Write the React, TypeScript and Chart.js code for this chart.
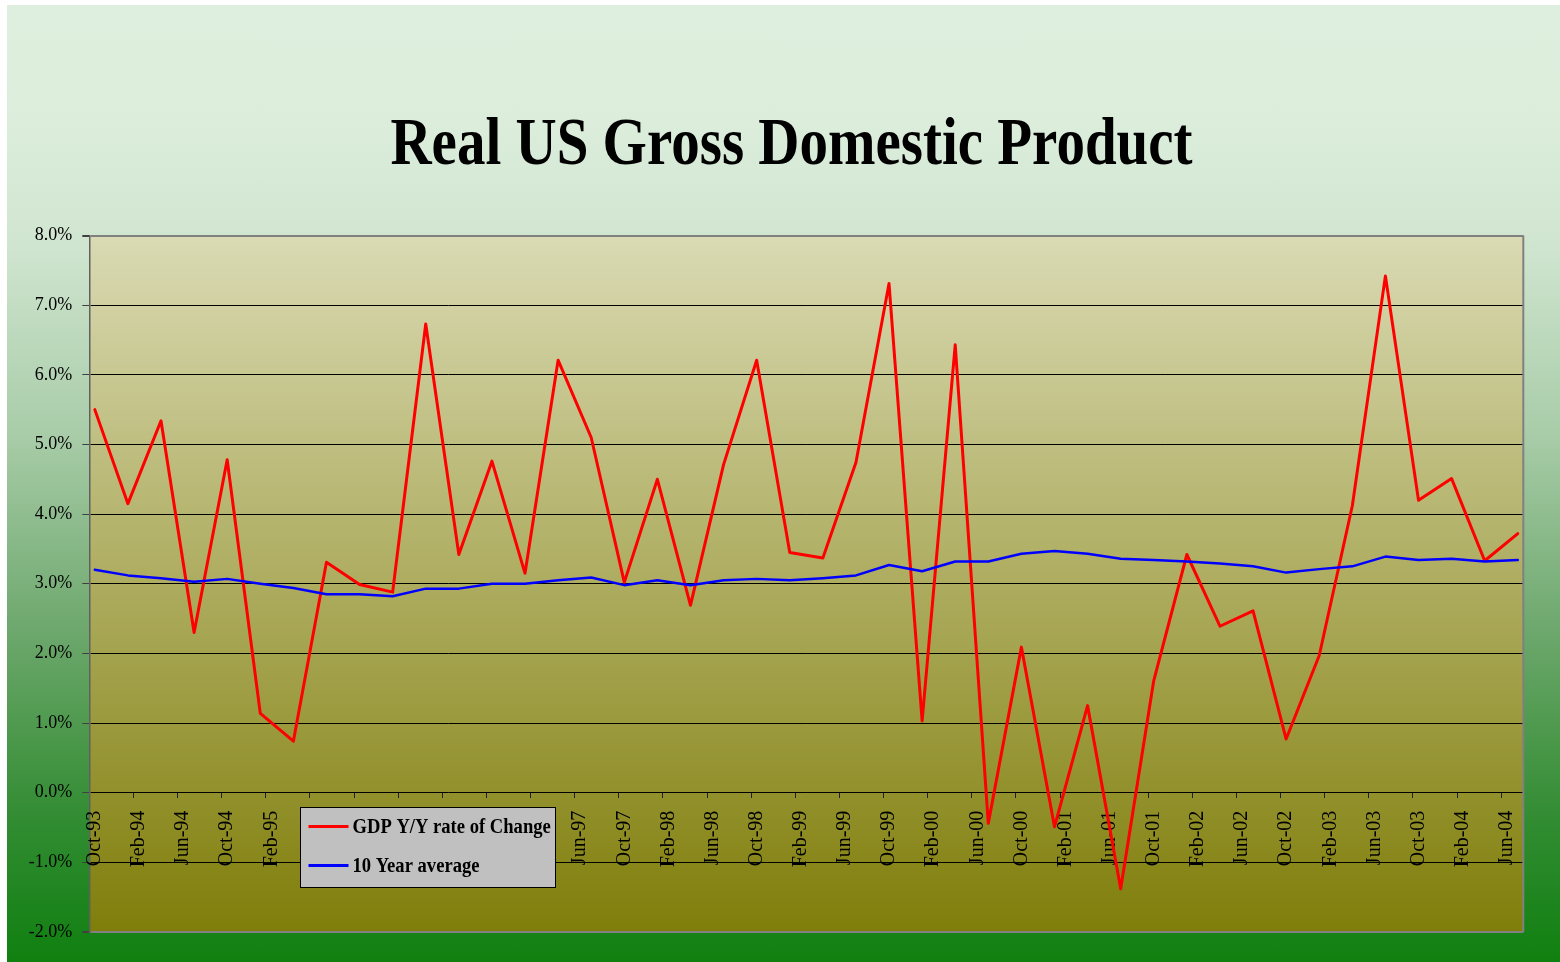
import React, { useEffect, useRef } from "react";
import { Chart, registerables } from "chart.js";

Chart.register(...registerables);

const chartTitle = "Real US Gross Domestic Product";

const quarterLabels = [
  "Oct-93",
  "Jan-94", "Apr-94", "Jul-94", "Oct-94",
  "Jan-95", "Apr-95", "Jul-95", "Oct-95",
  "Jan-96", "Apr-96", "Jul-96", "Oct-96",
  "Jan-97", "Apr-97", "Jul-97", "Oct-97",
  "Jan-98", "Apr-98", "Jul-98", "Oct-98",
  "Jan-99", "Apr-99", "Jul-99", "Oct-99",
  "Jan-00", "Apr-00", "Jul-00", "Oct-00",
  "Jan-01", "Apr-01", "Jul-01", "Oct-01",
  "Jan-02", "Apr-02", "Jul-02", "Oct-02",
  "Jan-03", "Apr-03", "Jul-03", "Oct-03",
  "Jan-04", "Apr-04", "Jul-04",
];

const gdpValues = [
  5.5, 4.15, 5.34, 2.3, 4.78, 1.14, 0.74, 3.31, 2.99, 2.88,
  6.73, 3.42, 4.76, 3.15, 6.21, 5.1, 3.02, 4.5, 2.69, 4.71,
  6.21, 3.45, 3.37, 4.74, 7.31, 1.03, 6.43, -0.44, 2.09, -0.49,
  1.25, -1.38, 1.61, 3.42, 2.39, 2.61, 0.77, 1.97, 4.12, 7.42,
  4.2, 4.51, 3.33, 3.72,
];

const avgValues = [
  3.2, 3.12, 3.08, 3.03, 3.07, 3.0, 2.94, 2.85, 2.85, 2.82,
  2.93, 2.93, 3.0, 3.0, 3.05, 3.09, 2.98, 3.05, 2.98, 3.05,
  3.07, 3.05, 3.08, 3.12, 3.27, 3.18, 3.32, 3.32, 3.43, 3.47,
  3.43, 3.36, 3.34, 3.32, 3.29, 3.25, 3.16, 3.21, 3.25, 3.39,
  3.34, 3.36, 3.32, 3.34,
];

const tickLabels = [
  "Oct-93", "Feb-94", "Jun-94", "Oct-94", "Feb-95", "Jun-95", "Oct-95",
  "Feb-96", "Jun-96", "Oct-96", "Feb-97", "Jun-97", "Oct-97", "Feb-98",
  "Jun-98", "Oct-98", "Feb-99", "Jun-99", "Oct-99", "Feb-00", "Jun-00",
  "Oct-00", "Feb-01", "Jun-01", "Oct-01", "Feb-02", "Jun-02", "Oct-02",
  "Feb-03", "Jun-03", "Oct-03", "Feb-04", "Jun-04",
];

const seriesNames = ["GDP Y/Y rate of Change", "10 Year average"];
const seriesColors = ["#ff0000", "#0000ff"];

const W = 1553;
const H = 957;
const SERIF = '"Liberation Serif", "Times New Roman", serif';

export default function App() {
  const ref = useRef<HTMLCanvasElement>(null);

  useEffect(() => {
    if (!ref.current) return;
    const monthsPerQuarter = 3;
    const monthsPerTick = 4;
    const toPoints = (vals: number[]) =>
      vals.map((v, i) => ({ x: i * monthsPerQuarter, y: v }));

    const plotBg = {
      id: "plotBg",
      beforeDraw(chart: any) {
        const { ctx, chartArea: a } = chart;
        const g = ctx.createLinearGradient(0, a.top, 0, a.bottom);
        g.addColorStop(0, "rgb(218,218,180)");
        g.addColorStop(1, "rgb(128,126,10)");
        ctx.save();
        ctx.fillStyle = g;
        ctx.fillRect(a.left, a.top, a.right - a.left, a.bottom - a.top);
        ctx.restore();
      },
    };

    const titleAndFrame = {
      id: "titleAndFrame",
      afterDraw(chart: any) {
        const { ctx, chartArea: a } = chart;
        ctx.save();
        ctx.strokeStyle = "#808080";
        ctx.lineWidth = 2;
        ctx.beginPath();
        ctx.moveTo(a.right, a.top);
        ctx.lineTo(a.right, a.bottom);
        ctx.stroke();
        ctx.translate(784.5, 159);
        ctx.scale(1, 1.17);
        ctx.fillStyle = "#000";
        ctx.font = `bold 57px ${SERIF}`;
        ctx.textAlign = "center";
        ctx.textBaseline = "alphabetic";
        ctx.fillText(chartTitle, 0, 0);
        ctx.restore();

        const ds = chart.data.datasets;
        const bx = 293.5, by = 802.5, bw = 255, bh = 80;
        ctx.save();
        ctx.fillStyle = "#c0c0c0";
        ctx.fillRect(bx, by, bw, bh);
        ctx.strokeStyle = "#000";
        ctx.lineWidth = 1;
        ctx.strokeRect(bx, by, bw, bh);
        const rows = [821.5, 860.5];
        ds.forEach((d: any, i: number) => {
          const y = rows[i];
          ctx.strokeStyle = d.borderColor;
          ctx.lineWidth = 3;
          ctx.beginPath();
          ctx.moveTo(bx + 8, y);
          ctx.lineTo(bx + 48, y);
          ctx.stroke();
          ctx.save();
          ctx.translate(bx + 52, y + 6);
          ctx.scale(1, 1.12);
          ctx.fillStyle = "#000";
          ctx.font = `bold 18.6px ${SERIF}`;
          ctx.textAlign = "left";
          ctx.textBaseline = "alphabetic";
          ctx.fillText(d.label, 0, 0);
          ctx.restore();
        });
        ctx.restore();
      },
    };

    const chart = new Chart(ref.current, {
      type: "line",
      data: {
        datasets: [
          {
            label: seriesNames[0],
            data: toPoints(gdpValues),
            borderColor: seriesColors[0],
            backgroundColor: seriesColors[0],
            borderWidth: 3,
            borderJoinStyle: "round",
            borderCapStyle: "round",
            pointRadius: 0,
            tension: 0,
            order: 1,
            xAxisID: "x",
          },
          {
            label: seriesNames[1],
            data: toPoints(avgValues),
            borderColor: seriesColors[1],
            backgroundColor: seriesColors[1],
            borderWidth: 2.5,
            borderJoinStyle: "round",
            borderCapStyle: "round",
            pointRadius: 0,
            tension: 0,
            order: 0,
            xAxisID: "x",
          },
        ],
      },
      options: {
        responsive: false,
        animation: false,
        devicePixelRatio: 1,
        layout: { padding: { left: 0, top: 230.5, right: 36.7, bottom: 30 } },
        plugins: {
          legend: { display: false },
          title: { display: false },
          tooltip: { enabled: false },
        },
        scales: {
          y: {
            type: "linear",
            position: "left",
            min: -2,
            max: 8,
            afterFit: (s: any) => {
              s.width = 82.3;
            },
            ticks: {
              stepSize: 1,
              padding: 10,
              color: "#000",
              font: { family: SERIF, size: 18 },
              callback: (v: any) => Number(v).toFixed(1) + "%",
            },
            grid: {
              color: (c: any) =>
                c.tick && (c.tick.value === 8 || c.tick.value === -2) ? "#808080" : "#000",
              lineWidth: (c: any) =>
                c.tick && (c.tick.value === 8 || c.tick.value === -2) ? 2 : 1,
              tickLength: 7,
              tickColor: "#404040",
              drawTicks: true,
            },
            border: { display: true, color: "#606060", width: 1.5 },
          },
          x: {
            type: "linear",
            position: { y: 0 } as any,
            min: -0.5,
            max: 129.5,
            afterBuildTicks: (s: any) => {
              s.ticks = tickLabels.map((_, k) => ({ value: k * monthsPerTick }));
            },
            ticks: {
              autoSkip: false,
              maxRotation: 90,
              minRotation: 90,
              padding: 10,
              color: "#000",
              font: { family: SERIF, size: 20 },
              callback: (_v: any, i: number) => tickLabels[i],
            },
            grid: { display: false },
            border: { display: false },
          },
          xt: {
            type: "linear",
            position: { y: 0 } as any,
            min: -0.5,
            max: 129.5,
            afterBuildTicks: (s: any) => {
              s.ticks = tickLabels.map((_, k) => ({ value: k * monthsPerTick - 0.5 }));
            },
            ticks: { display: false },
            grid: {
              display: true,
              drawOnChartArea: false,
              drawTicks: true,
              tickLength: 5,
              tickColor: "#202020",
              color: "#202020",
            },
            border: { display: false },
          },
        },
      },
      plugins: [plotBg, titleAndFrame],
    } as any);

    return () => chart.destroy();
  }, []);

  return (
    <div
      style={{
        position: "fixed",
        left: 7,
        top: 5,
        width: W,
        height: H,
        background:
          "linear-gradient(to bottom, rgb(223,239,223) 0%, rgb(220,237,220) 12%, rgb(208,229,208) 25%, rgb(168,204,168) 45%, rgb(110,168,110) 65%, rgb(50,140,50) 85%, rgb(16,128,16) 100%)",
      }}
    >
      <canvas ref={ref} width={W} height={H} style={{ display: "block" }} />
    </div>
  );
}
